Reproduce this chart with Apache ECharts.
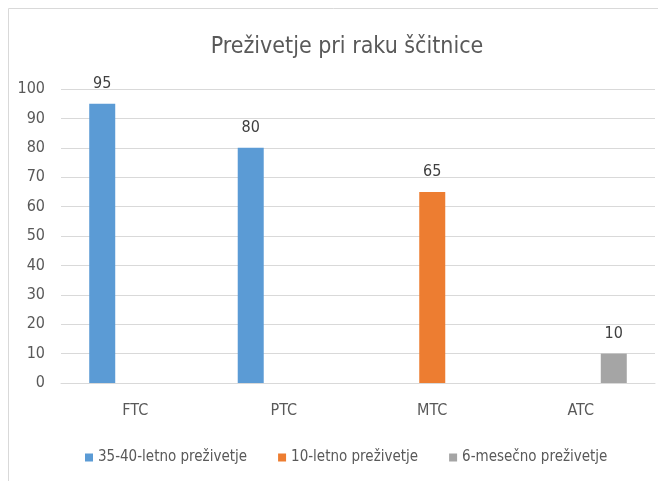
<!DOCTYPE html>
<html>
<head>
<meta charset="utf-8">
<script src="https://cdn.jsdelivr.net/npm/echarts@6/dist/echarts.min.js"></script>
<style>
  html, body { margin: 0; padding: 0; background: #fff; }
  #main { width: 658px; height: 481px; }
</style>
</head>
<body>
<div id="main"></div>
<script>
const categories = ["FTC", "PTC", "MTC", "ATC"];
const seriesNames = ["35-40-letno preživetje", "10-letno preživetje", "6-mesečno preživetje"];
const longTerm = [95, 80, null, null];
const tenYear = [null, null, 65, null];
const sixMonth = [null, null, null, 10];
const colors = ["#5b9bd5", "#ed7d31", "#a5a5a5"];

const font = '"Liberation Sans Narrow", "DejaVu Sans Condensed", sans-serif';
const chart = echarts.init(document.getElementById("main"));

const makeSeries = (name, data, color) => ({
  name,
  type: "bar",
  data,
  barWidth: 26,
  barGap: "27%",
  itemStyle: { color },
  label: {
    show: true,
    position: "top",
    distance: 12,
    color: "#404040",
    fontFamily: font,
    fontSize: 16,
  },
});

chart.setOption({
  animation: false,
  title: {
    text: "Preživetje pri raku ščitnice",
    left: 342,
    top: 31,
    textAlign: "center",
    textStyle: { fontFamily: font, fontSize: 23, fontWeight: "normal", color: "#595959" },
  },
  graphic: [{
    type: "rect",
    shape: { x: 8.5, y: 8.5, width: 700, height: 500 },
    style: { fill: "none", stroke: "#d9d9d9", lineWidth: 1 },
  }],
  legend: {
    data: seriesNames,
    orient: "horizontal",
    top: 445,
    left: 80,
    itemWidth: 8,
    itemHeight: 8,
    itemGap: 31,
    icon: "rect",
    textStyle: { fontFamily: font, fontSize: 15, color: "#595959" },
  },
  grid: { left: 61, right: 3, top: 89, bottom: 98 },
  xAxis: {
    type: "category",
    data: categories,
    axisTick: { show: false },
    axisLine: { lineStyle: { color: "#d9d9d9" } },
    axisLabel: { fontFamily: font, fontSize: 16, color: "#595959", margin: 20 },
  },
  yAxis: {
    type: "value",
    min: 0,
    max: 100,
    interval: 10,
    axisLabel: { fontFamily: font, fontSize: 16, color: "#595959", margin: 16 },
    splitLine: { lineStyle: { color: "#d9d9d9" } },
  },
  series: [
    makeSeries(seriesNames[0], longTerm, colors[0]),
    makeSeries(seriesNames[1], tenYear, colors[1]),
    makeSeries(seriesNames[2], sixMonth, colors[2]),
  ],
});
</script>
</body>
</html>
